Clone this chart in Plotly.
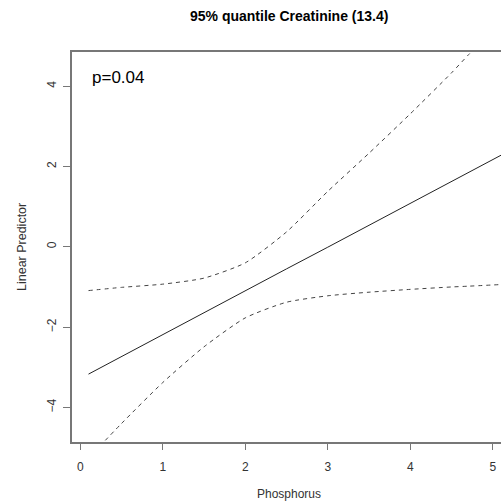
import plotly.graph_objects as go

phosphorus = [0.1, 0.5, 1.0, 1.5, 2.0, 2.5, 3.0, 3.5, 4.0, 4.5, 4.71, 5.1]
fit = [-3.17, -2.73, -2.19, -1.64, -1.10, -0.55, -0.01, 0.54, 1.08, 1.63, 1.86, 2.28]
upper = [-1.09, -1.01, -0.93, -0.78, -0.40, 0.37, 1.38, 2.33, 3.31, 4.33, 4.79, 5.60]
lower = [-5.26, -4.40, -3.38, -2.49, -1.77, -1.38, -1.22, -1.13, -1.06, -1.00, -0.98, -0.94]

x_ticks = [0, 1, 2, 3, 4, 5]
y_ticks = [-4, -2, 0, 2, 4]
title = "95% quantile Creatinine (13.4)"
p_label = "p=0.04"

FONT = "Liberation Sans, Arial, Helvetica, sans-serif"

fig = go.Figure()
fig.add_trace(go.Scatter(x=phosphorus, y=fit, mode="lines",
                         line=dict(color="#222", width=1), showlegend=False))
fig.add_trace(go.Scatter(x=phosphorus, y=upper, mode="lines",
                         line=dict(color="#444", width=1, dash="4px,4px", shape="spline", smoothing=0.6),
                         showlegend=False))
fig.add_trace(go.Scatter(x=phosphorus, y=lower, mode="lines",
                         line=dict(color="#444", width=1, dash="4px,4px", shape="spline", smoothing=0.6),
                         showlegend=False))

fig.update_layout(
    width=501, height=502,
    margin=dict(l=72, r=0, t=52, b=60),
    paper_bgcolor="white", plot_bgcolor="white",
    font=dict(family=FONT, size=12, color="#333"),
    xaxis=dict(range=[-0.1, 5.1], tickvals=x_ticks, ticks="outside", ticklen=6,
               tickcolor="#777", showline=True, linecolor="#777", linewidth=1.5,
               mirror=True, showgrid=False, zeroline=False, ticklabelstandoff=7,
               tickfont=dict(size=12, color="#333")),
    yaxis=dict(range=[-4.86, 4.85], tickvals=y_ticks, ticks="outside", ticklen=7,
               tickcolor="#777", showline=True, linecolor="#777", linewidth=1.5,
               mirror=False, showgrid=False, zeroline=False, tickangle=-90,
               ticklabelstandoff=2, tickfont=dict(size=12, color="#333")),
    annotations=[
        dict(text="<b>" + title + "</b>", xref="paper", yref="paper", x=0.506, y=1,
             yshift=36, showarrow=False, xanchor="center", yanchor="middle",
             font=dict(size=14, color="black", family=FONT)),
        dict(text="Phosphorus", xref="paper", yref="paper", x=0.506, y=0,
             yshift=-52, showarrow=False, xanchor="center", yanchor="middle",
             font=dict(size=12, color="#333", family=FONT)),
        dict(text="Linear Predictor", xref="paper", yref="paper", x=0, y=0.5,
             xshift=-50, showarrow=False, xanchor="center", yanchor="middle",
             textangle=-90, font=dict(size=12.5, color="#333", family=FONT)),
        dict(text=p_label, x=0.12, y=4.22, xref="x", yref="y", showarrow=False,
             xanchor="left", yanchor="middle", font=dict(size=17, color="black", family=FONT)),
    ],
)

fig.write_html("out.html")
